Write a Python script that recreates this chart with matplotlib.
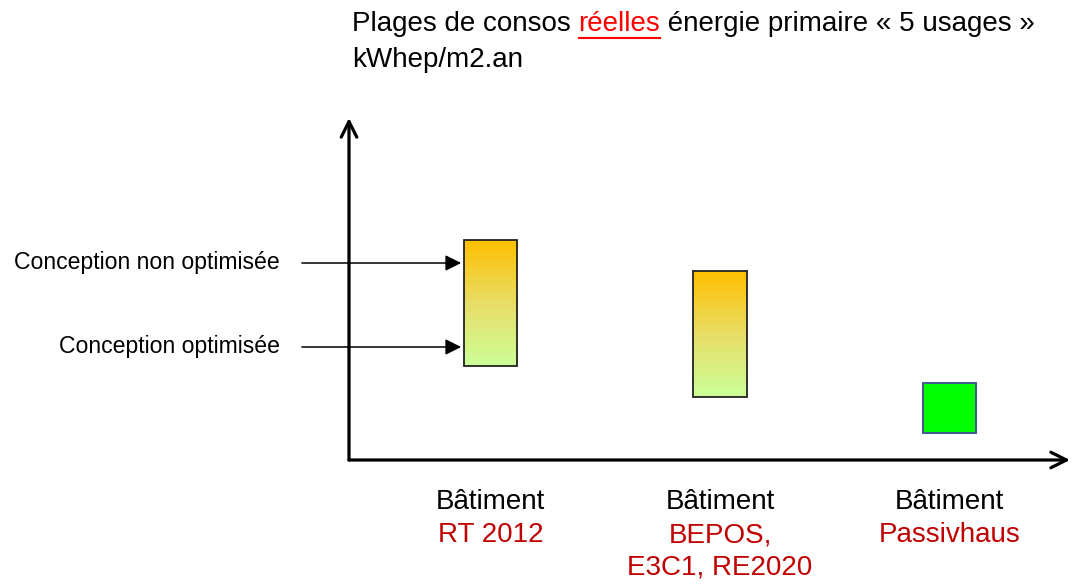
import numpy as np
import matplotlib as mpl
import matplotlib.pyplot as plt
from matplotlib.colors import LinearSegmentedColormap
from matplotlib.patches import Rectangle
from matplotlib.lines import Line2D
mpl.use('Agg')

plt.rcParams['font.family'] = ['Liberation Sans', 'DejaVu Sans']

# data (arbitrary units above the x axis)
header = "Bâtiment"
categories = ["RT 2012", "BEPOS,\nE3C1, RE2020", "Passivhaus"]
low = [94, 63, 27]
high = [220, 189, 77]
gradient = [True, True, False]

marker_labels = ["Conception non optimisée", "Conception optimisée"]
marker_values = [197, 113]

title_parts = [("Plages de consos ", "black", False),
               ("réelles", "#FF0000", True),
               (" énergie primaire « 5 usages »", "black", False)]
title_line2 = "kWhep/m2.an"

W, H = 1072, 586
fig = plt.figure(figsize=(W / 100, H / 100), dpi=100)
ax = fig.add_axes([349 / W, (H - 460) / H, (1070 - 349) / W, (460 - 118) / H])
xlim = (-0.617, 2.526)
ylim = (0, 342)
ax.axis('off')

bar_w = 0.232
cmap = LinearSegmentedColormap.from_list("grad", ["#CCFF99", "#E9DD66", "#FFC000"])
grad = np.linspace(0, 1, 256).reshape(-1, 1)

for i, (lo, hi, g) in enumerate(zip(low, high, gradient)):
    x0 = i - bar_w / 2
    if g:
        ax.imshow(grad, extent=[x0, x0 + bar_w, lo, hi], origin='lower',
                  cmap=cmap, aspect='auto', zorder=2)
        ax.add_patch(Rectangle((x0, lo), bar_w, hi - lo, fill=False,
                               edgecolor='#222222', lw=1.3, zorder=3))
    else:
        ax.add_patch(Rectangle((x0, lo), bar_w, hi - lo, facecolor='#00FF00',
                               edgecolor='#3F5F8F', lw=1.5, zorder=3))

    ax.annotate(header, xy=(i, 0), xytext=(0, -42), textcoords='offset pixels',
                ha='center', va='center', fontsize=20, color='black',
                annotation_clip=False)
    for k, line in enumerate(categories[i].split('\n')):
        ax.annotate(line, xy=(i, 0), xytext=(0, -75 - 33 * k),
                    textcoords='offset pixels', ha='center', va='center',
                    fontsize=20, color='#C00000', annotation_clip=False)

ax.set_xlim(*xlim)
ax.set_ylim(*ylim)

# axes arrows
for end in [(0, 1), (1, 0)]:
    ax.annotate('', xy=end, xytext=(0, 0), xycoords='axes fraction',
                arrowprops=dict(arrowstyle='->', lw=2.3, color='black',
                                mutation_scale=28, shrinkA=0, shrinkB=0),
                annotation_clip=False)

# pointer arrows to bar 1
for lab, val in zip(marker_labels, marker_values):
    ax.annotate('', xy=(-bar_w / 2, val), xytext=(-162, 0),
                textcoords='offset pixels',
                arrowprops=dict(arrowstyle='-|>', lw=1.1, color='black',
                                mutation_scale=24, shrinkA=0, shrinkB=2),
                annotation_clip=False)
    ax.annotate(lab, xy=(-bar_w / 2, val), xytext=(-184, 0),
                textcoords='offset pixels', ha='right', va='center',
                fontsize=16.6, annotation_clip=False)

# title with underlined word
renderer = fig.canvas.get_renderer()
x = 352
for txt, col, ul in title_parts:
    t = fig.text(x / W, 1 - 31 / H, txt, color=col, fontsize=20,
                 ha='left', va='baseline')
    bb = t.get_window_extent(renderer)
    if ul:
        fig.add_artist(Line2D([bb.x0 / W, bb.x1 / W], [1 - 38 / H, 1 - 38 / H],
                              color=col, lw=1.5, transform=fig.transFigure))
    x = bb.x1
fig.text(352 / W, 1 - 67 / H, title_line2, fontsize=20, ha='left', va='baseline')

plt.savefig('out.png', dpi=100)
